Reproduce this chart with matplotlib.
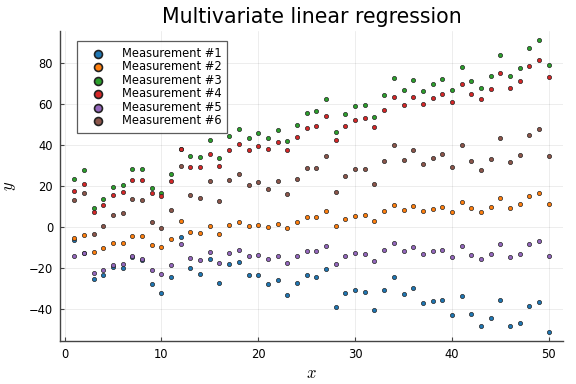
import matplotlib
matplotlib.use("Agg")
import matplotlib.pyplot as plt
import numpy as np

plt.rcParams['font.family'] = ['DejaVu Sans']
plt.rcParams['mathtext.fontset'] = 'cm'

x = list(range(1, 51))

m1 = [-6.5, -12.8, -25.7, -23.4, -19.5, -20.0, -15.0, -16.2, -28.0, -32.2,
      -24.7, -4.9, -20.1, -22.9, -16.0, -27.5, -18.3, -17.0, -23.4, -23.4,
      -28.0, -25.9, -33.4, -27.3, -23.6, -24.7, -20.6, -39.1, -32.4, -30.8,
      -31.9, -40.6, -31.1, -24.7, -33.1, -29.8, -37.5, -36.2, -35.8, -43.4,
      -34.0, -42.9, -48.8, -44.7, -36.0, -48.8, -47.0, -38.8, -37.0, -51.6]
m2 = [-5.6, -4.1, -12.3, -10.6, -8.0, -7.7, -4.4, -4.7, -8.8, -9.8,
      -6.2, 2.9, -2.6, -2.9, 0.5, -3.4, 1.0, 2.3, 0.3, 1.0,
      -0.2, 1.5, -0.8, 2.5, 4.7, 4.7, 7.5, 0.3, 3.9, 5.4,
      5.6, 2.8, 7.5, 10.6, 8.0, 10.0, 7.5, 8.8, 9.8, 7.4,
      12.1, 9.0, 7.4, 9.8, 14.1, 9.3, 11.0, 15.1, 16.7, 11.1]
m3 = [23.2, 27.7, 9.2, 13.4, 19.3, 20.6, 28.2, 28.2, 19.0, 16.7,
      26.0, 38.0, 34.5, 33.9, 42.7, 33.6, 44.5, 47.8, 43.5, 45.7,
      43.2, 47.5, 42.1, 49.9, 55.6, 56.5, 62.7, 46.6, 55.2, 58.9,
      59.7, 53.5, 64.6, 72.8, 66.8, 72.0, 66.4, 69.9, 72.3, 66.9,
      78.1, 71.4, 67.8, 74.0, 84.3, 73.8, 77.6, 87.7, 91.5, 79.2]
m4 = [17.3, 20.8, 7.4, 10.8, 15.5, 17.0, 22.7, 22.9, 16.5, 15.2,
      22.4, 38.3, 29.3, 29.3, 35.8, 29.5, 37.8, 40.4, 37.6, 39.6,
      38.0, 41.4, 37.6, 43.9, 48.3, 49.3, 54.0, 42.7, 49.3, 52.2,
      53.2, 48.9, 57.3, 63.7, 59.6, 63.7, 59.9, 62.8, 64.8, 61.2,
      69.7, 65.0, 62.7, 67.6, 75.4, 68.1, 71.2, 78.9, 81.8, 73.2]
m5 = [-14.4, -12.6, -22.7, -21.3, -18.7, -18.3, -14.2, -15.9, -21.3, -22.9,
      -18.7, -8.3, -15.5, -16.5, -12.3, -17.8, -12.6, -11.5, -14.4, -13.7,
      -15.7, -14.1, -17.5, -14.1, -11.8, -11.8, -9.2, -18.0, -14.2, -12.9,
      -13.1, -16.9, -11.6, -8.0, -11.8, -9.7, -13.1, -11.9, -11.3, -14.6,
      -9.5, -13.6, -15.9, -13.4, -8.5, -14.6, -13.3, -8.5, -7.2, -14.1]
m6 = [12.9, 16.7, -3.6, 0.3, 5.7, 6.5, 13.6, 12.9, 2.5, -0.7,
      8.3, 29.6, 15.7, 14.2, 22.6, 12.6, 23.1, 25.7, 20.5, 22.1,
      18.7, 22.4, 16.0, 23.4, 28.6, 28.6, 34.4, 17.2, 25.0, 28.3,
      28.5, 21.1, 32.1, 39.9, 32.7, 37.5, 30.9, 33.7, 35.5, 29.1,
      40.1, 32.2, 27.7, 33.4, 43.5, 31.8, 35.2, 44.8, 48.0, 34.4]

series = [m1, m2, m3, m4, m5, m6]
labels = ["Measurement #1", "Measurement #2", "Measurement #3",
          "Measurement #4", "Measurement #5", "Measurement #6"]
colors = ["#1f77b4", "#ff7f0e", "#2ca02c", "#d62728", "#9467bd", "#8c564b"]

xticks = [0, 10, 20, 30, 40, 50]
yticks = [-40, -20, 0, 20, 40, 60, 80]

fig = plt.figure(figsize=(5.76, 3.84), dpi=100)
ax = fig.add_axes([60/576, 1 - 341/384, (563 - 60)/576, (341 - 31)/384])

for s, lab, c in zip(series, labels, colors):
    ax.scatter(x, s, s=9, c=c, edgecolors="#222222", linewidths=0.5,
               label=lab, zorder=3)

ax.set_xlim(-0.47, 51.47)
ax.set_ylim(-55.9, 95.8)
ax.set_xticks(xticks)
ax.set_yticks(yticks)
ax.grid(True, color="black", alpha=0.1, linewidth=0.5)
ax.set_axisbelow(True)
for side in ["top", "right"]:
    ax.spines[side].set_visible(False)
for side in ["left", "bottom"]:
    ax.spines[side].set_color("#444444")
    ax.spines[side].set_linewidth(1.0)
ax.tick_params(direction="in", length=3, width=0.8, color="#444444",
               labelsize=8.3, pad=5, labelcolor="black")

ax.set_title("Multivariate linear regression", fontsize=14.8, pad=6)
ax.set_xlabel("$x$", fontsize=12, labelpad=2)
ax.set_ylabel("$y$", fontsize=12, labelpad=8)

leg = ax.legend(loc="upper left", bbox_to_anchor=((77 - 60)/503, (341 - 41)/310),
                fontsize=8.3, frameon=True, fancybox=False, borderpad=0.5,
                handletextpad=0.67, labelspacing=0.04, markerscale=1.9,
                borderaxespad=0, handlelength=2.7)
leg.get_frame().set_edgecolor("#333333")
leg.get_frame().set_linewidth(0.9)
for h in leg.legend_handles:
    h.set_linewidth(1.2)

fig.savefig("out.png", dpi=100)
